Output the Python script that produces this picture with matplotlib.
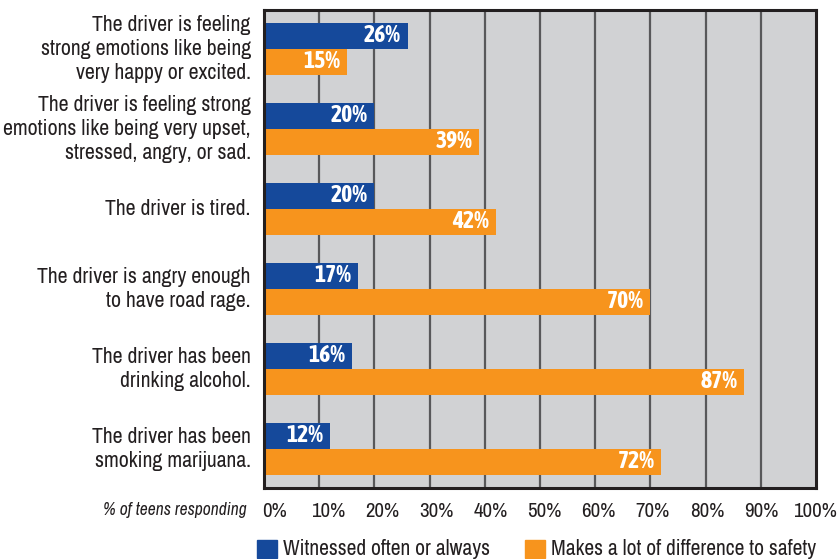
import matplotlib
matplotlib.use("Agg")
import matplotlib.pyplot as plt
from matplotlib.patches import Rectangle

categories = [
    "The driver is feeling\nstrong emotions like being\nvery happy or excited.",
    "The driver is feeling strong\nemotions like being very upset,\nstressed, angry, or sad.",
    "The driver is tired.",
    "The driver is angry enough\nto have road rage.",
    "The driver has been\ndrinking alcohol.",
    "The driver has been\nsmoking marijuana.",
]
witnessed = [26, 20, 20, 17, 16, 12]
difference = [15, 39, 42, 70, 87, 72]
tick_values = [0, 10, 20, 30, 40, 50, 60, 70, 80, 90, 100]
tick_labels = [f"{v}%" for v in tick_values]
series_names = ["Witnessed often or always", "Makes a lot of difference to safety"]

BLUE = "#15499B"
ORANGE = "#F7941D"
BG = "#D1D2D4"
GRID = "#58585A"
FRAME = "#231F20"

plt.rcParams["font.family"] = ["Archivo Narrow", "DejaVu Sans"]
plt.rcParams["font.stretch"] = "condensed"
BOLDFONT = ["Asap Condensed", "DejaVu Sans"]

fig = plt.figure(figsize=(8.38, 5.59), dpi=100)
ax = fig.add_axes([264/838, 1-488/559, (816-264)/838, (488-10)/559])
ax.set_facecolor(BG)

n = len(categories)
h = 0.325
off = 0.1625
ys = list(range(n))
ax.barh([y - off for y in ys], witnessed, height=h, color=BLUE, zorder=3)
ax.barh([y + off for y in ys], difference, height=h, color=ORANGE, zorder=3)

for y, v in zip(ys, witnessed):
    ax.text(v - 1.2, y - off, f"{v}%", ha="right", va="center", color="white",
            fontsize=17, fontweight="bold", family=BOLDFONT, zorder=4)
for y, v in zip(ys, difference):
    ax.text(v - 1.2, y + off, f"{v}%", ha="right", va="center", color="white",
            fontsize=17, fontweight="bold", family=BOLDFONT, zorder=4)

ax.set_xlim(0, 100)
ax.set_ylim(n - 1 + 0.4875, -0.4875)
# gridlines at the true values
for v in tick_values[1:-1]:
    ax.axvline(v, color=GRID, lw=1.6, zorder=1)
# tick labels are spread slightly differently from the grid in the original
ax.set_xticks([1.9 + 0.979 * v for v in tick_values])
ax.set_xticklabels(tick_labels, fontsize=15, color=FRAME)
ax.tick_params(axis="x", length=0, pad=10)
ax.set_yticks([])
for s in ax.spines.values():
    s.set_color(FRAME)
    s.set_linewidth(2.2)
    s.set_zorder(5)

for y, c in zip(ys, categories):
    ax.text(-2.4, y, c, ha="right", va="center", fontsize=15.7, color=FRAME,
            linespacing=1.28, transform=ax.transData)

fig.text(247/838, 1-510/559, "% of teens responding", ha="right", va="center",
         fontsize=12.6, style="italic", color=FRAME)

# legend
for x0, col, name in [(257, BLUE, series_names[0]), (525, ORANGE, series_names[1])]:
    fig.patches.append(Rectangle((x0/838, 1-558/559), 20/838, 18/559,
                                 transform=fig.transFigure, color=col, figure=fig))
    fig.text((x0+26)/838, 1-549/559, name, ha="left", va="center",
             fontsize=15.5, color=FRAME)

fig.savefig("out.png", dpi=100)
